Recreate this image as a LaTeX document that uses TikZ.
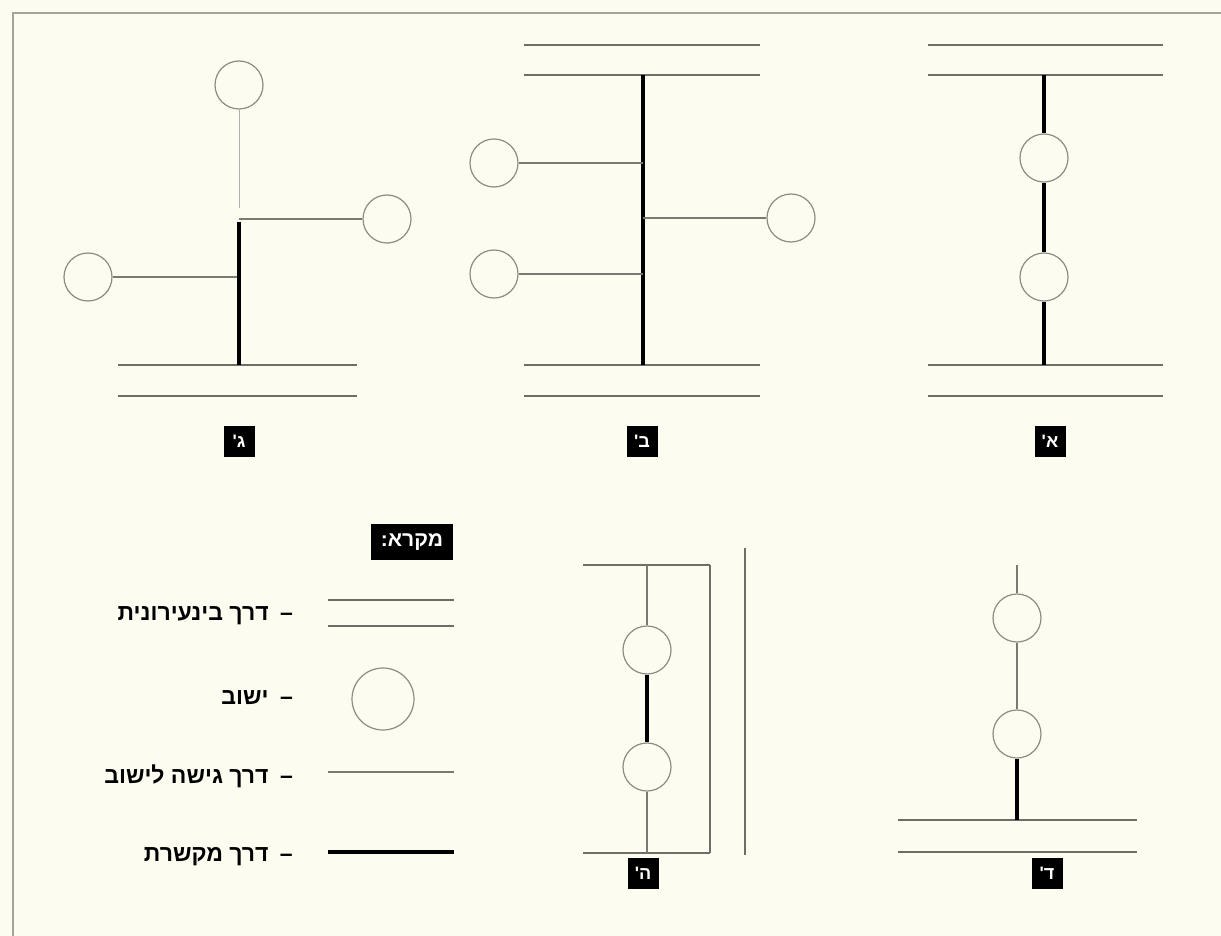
\documentclass[tikz,border=0pt]{standalone}
\usepackage{fontspec}
\newfontfamily\heb[Script=Hebrew]{Liberation Sans}
\TeXXeTstate=1
\definecolor{bg}{HTML}{FCFDF0}
\definecolor{framegray}{HTML}{A4A49C}
\definecolor{roadgray}{HTML}{6E6E68}
\definecolor{thingray}{HTML}{7A7A74}
\definecolor{circgray}{HTML}{8C8C86}
\tikzset{
  town/.style={circle, draw=circgray, fill=bg, line width=1.2pt, minimum size=48pt, inner sep=0pt},
  road/.style={draw=roadgray, line width=1.3pt},
  access/.style={draw=thingray, line width=1.2pt},
  faint/.style={draw=thingray!60, line width=1pt},
  link/.style={draw=black, line width=4pt},
  tag/.style={fill=black, text=white, font=\heb\bfseries\fontsize{18}{20}\selectfont, minimum width=31pt, minimum height=31pt, inner sep=0pt},
  legtext/.style={font=\heb\bfseries\fontsize{23}{26}\selectfont, anchor=east, inner sep=0pt},
  rim/.style={draw=framegray, line width=2pt}
}
\begin{document}
\begin{tikzpicture}[x=1pt,y=-1pt]
\useasboundingbox[fill=bg] (0,0) rectangle (1221,936);
% frame
\coordinate (F1) at (13,936);
\coordinate (F2) at (13,13);
\coordinate (F3) at (1221,13);
\draw[rim] (F1) -- (F2) -- (F3);

% ---------- Panel A ----------
\coordinate (Aa1) at (928,45);  \coordinate (Aa2) at (1163,45);
\coordinate (Ab1) at (928,75);  \coordinate (Ab2) at (1163,75);
\coordinate (Ac1) at (928,365); \coordinate (Ac2) at (1163,365);
\coordinate (Ad1) at (928,396); \coordinate (Ad2) at (1163,396);
\draw[road] (Aa1) -- (Aa2);
\draw[road] (Ab1) -- (Ab2);
\draw[road] (Ac1) -- (Ac2);
\draw[road] (Ad1) -- (Ad2);
\coordinate (Atop) at (1044,75);
\coordinate (Abot) at (1044,365);
\node[town] (A1) at (1044,158) {};
\node[town] (A2) at (1044,277) {};
\draw[link] (Atop) -- (A1);
\draw[link] (A1) -- (A2);
\draw[link] (A2) -- (Abot);
\node[tag] (tagA) at (1050,441) {\beginR א'\endR};

% ---------- Panel B ----------
\coordinate (Ba1) at (524,45);  \coordinate (Ba2) at (760,45);
\coordinate (Bb1) at (524,75);  \coordinate (Bb2) at (760,75);
\coordinate (Bc1) at (524,365); \coordinate (Bc2) at (760,365);
\coordinate (Bd1) at (524,396); \coordinate (Bd2) at (760,396);
\draw[road] (Ba1) -- (Ba2);
\draw[road] (Bb1) -- (Bb2);
\draw[road] (Bc1) -- (Bc2);
\draw[road] (Bd1) -- (Bd2);
\coordinate (Btop) at (643,75);
\coordinate (Bbot) at (643,365);
\draw[link] (Btop) -- (Bbot);
\node[town] (B1) at (494,163) {};
\node[town] (B2) at (494,274) {};
\node[town] (B3) at (791,218) {};
\coordinate (Bj1) at (643,163);
\coordinate (Bj2) at (643,274);
\coordinate (Bj3) at (643,218);
\draw[access] (B1) -- (Bj1);
\draw[access] (B2) -- (Bj2);
\draw[access] (Bj3) -- (B3);
\node[tag] (tagB) at (642,441) {\beginR ב'\endR};

% ---------- Panel C ----------
\coordinate (Cc1) at (118,365); \coordinate (Cc2) at (357,365);
\coordinate (Cd1) at (118,396); \coordinate (Cd2) at (357,396);
\draw[road] (Cc1) -- (Cc2);
\draw[road] (Cd1) -- (Cd2);
\node[town] (C1) at (239,85) {};
\node[town] (C2) at (387,219) {};
\node[town] (C3) at (88,277) {};
\coordinate (Cj0) at (239,208);
\coordinate (Cj1) at (239,219);
\coordinate (Cj2) at (239,222);
\coordinate (Cj3) at (239,277);
\coordinate (Cbot) at (239,365);
\draw[faint] (C1) -- (Cj0);
\draw[access] (Cj1) -- (C2);
\draw[access] (C3) -- (Cj3);
\draw[link] (Cj2) -- (Cbot);
\node[tag] (tagC) at (239,441) {\beginR ג'\endR};

% ---------- Panel D ----------
\coordinate (Dtop) at (1017,565);
\coordinate (Dc1) at (898,820); \coordinate (Dc2) at (1137,820);
\coordinate (Dd1) at (898,852); \coordinate (Dd2) at (1137,852);
\draw[road] (Dc1) -- (Dc2);
\draw[road] (Dd1) -- (Dd2);
\coordinate (Dbot) at (1017,820);
\node[town] (D1) at (1017,618) {};
\node[town] (D2) at (1017,734) {};
\draw[access] (Dtop) -- (D1);
\draw[access] (D1) -- (D2);
\draw[link] (D2) -- (Dbot);
\node[tag] (tagD) at (1047,873) {\beginR ד'\endR};

% ---------- Panel E ----------
\coordinate (Ea1) at (583,565); \coordinate (Ea2) at (710,565);
\coordinate (Eb1) at (583,853); \coordinate (Eb2) at (710,853);
\draw[road] (Ea1) -- (Ea2);
\draw[road] (Eb1) -- (Eb2);
\draw[road] (Ea2) -- (Eb2);
\coordinate (Ev1) at (745,548); \coordinate (Ev2) at (745,855);
\draw[road] (Ev1) -- (Ev2);
\coordinate (Etop) at (647,565);
\coordinate (Ebot) at (647,853);
\node[town] (E1) at (647,650) {};
\node[town] (E2) at (647,767) {};
\draw[access] (Etop) -- (E1);
\draw[link] (E1) -- (E2);
\draw[access] (E2) -- (Ebot);
\node[tag] (tagE) at (643,873) {\beginR ה'\endR};

% ---------- Legend ----------
\node[fill=black, text=white, font=\heb\bfseries\fontsize{21}{24}\selectfont, minimum width=82pt, minimum height=36pt, inner sep=0pt] (legtitle) at (412,542) {\beginR מקרא:\endR};
\coordinate (La1) at (328,600); \coordinate (La2) at (454,600);
\coordinate (Lb1) at (328,626); \coordinate (Lb2) at (454,626);
\draw[road] (La1) -- (La2);
\draw[road] (Lb1) -- (Lb2);
\node[town, minimum size=62pt] (Lt) at (383,699) {};
\coordinate (Lc1) at (328,772); \coordinate (Lc2) at (454,772);
\draw[access] (Lc1) -- (Lc2);
\coordinate (Ld1) at (328,852); \coordinate (Ld2) at (454,852);
\draw[link] (Ld1) -- (Ld2);
\node[legtext] (l1) at (293,616) {\beginR –\hspace{5pt} דרך בינעירונית\endR};
\node[legtext] (l2) at (293,698) {\beginR –\hspace{5pt} ישוב\endR};
\node[legtext] (l3) at (293,776) {\beginR –\hspace{5pt} דרך גישה לישוב\endR};
\node[legtext] (l4) at (293,857) {\beginR –\hspace{5pt} דרך מקשרת\endR};
\end{tikzpicture}
\end{document}
